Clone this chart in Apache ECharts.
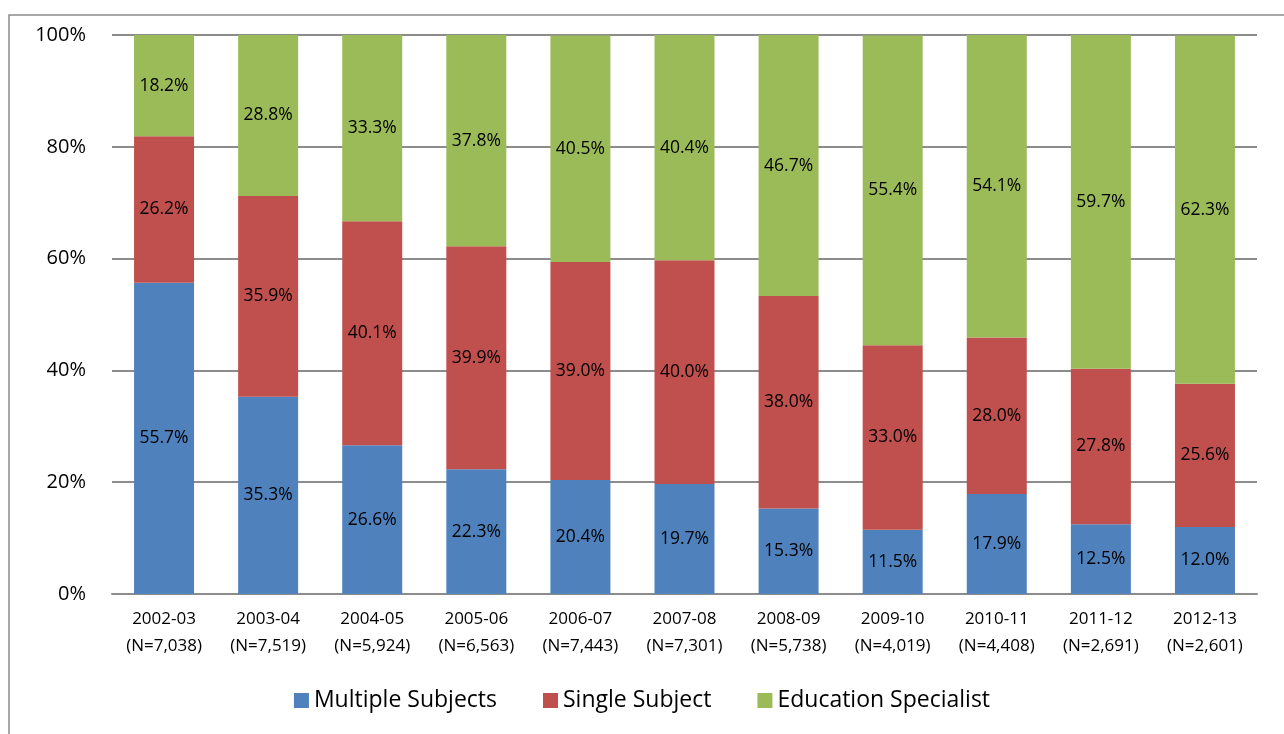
<!DOCTYPE html>
<html>
<head>
<meta charset="utf-8">
<script src="https://cdn.jsdelivr.net/npm/echarts@6/dist/echarts.min.js"></script>
<style>
  html, body { margin: 0; padding: 0; background: #fff; }
  #chart { width: 1284px; height: 734px; }
</style>
</head>
<body>
<div id="chart"></div>
<script>
// 年份与样本数
const years = ['2002-03', '2003-04', '2004-05', '2005-06', '2006-07', '2007-08', '2008-09', '2009-10', '2010-11', '2011-12', '2012-13'];
const counts = ['7,038', '7,519', '5,924', '6,563', '7,443', '7,301', '5,738', '4,019', '4,408', '2,691', '2,601'];

// 三类证书的占比
const multipleSubjects = [55.7, 35.3, 26.6, 22.3, 20.4, 19.7, 15.3, 11.5, 17.9, 12.5, 12.0];
const singleSubject = [26.2, 35.9, 40.1, 39.9, 39.0, 40.0, 38.0, 33.0, 28.0, 27.8, 25.6];
const educationSpecialist = [18.2, 28.8, 33.3, 37.8, 40.5, 40.4, 46.7, 55.4, 54.1, 59.7, 62.3];

const yTicks = [0, 20, 40, 60, 80, 100];

const categories = years.map((y, i) => y + '\n(N=' + counts[i] + ')');
const font = 'Open Sans';

function makeSeries(name, data, color) {
    return {
        name: name,
        type: 'bar',
        stack: 'total',
        barWidth: 60,
        data: data,
        itemStyle: { color: color },
        label: {
            show: true,
            position: 'inside',
            formatter: p => p.value.toFixed(1) + '%',
            color: '#000',
            fontFamily: font,
            fontSize: 17.5
        }
    };
}

const chart = echarts.init(document.getElementById('chart'));
chart.setOption({
    animation: false,
    textStyle: { fontFamily: font },
    graphic: [{
        type: 'rect',
        shape: { x: 9, y: 15, width: 1300, height: 740 },
        style: { fill: 'none', stroke: '#8c8c8c', lineWidth: 1.5 },
        silent: true
    }],
    grid: { left: 112, right: 27, top: 35, bottom: 140 },
    legend: {
        bottom: 17,
        left: 'center',
        itemWidth: 15,
        itemHeight: 15,
        itemGap: 46,
        icon: 'rect',
        textStyle: { fontSize: 23, color: '#000', fontFamily: font }
    },
    xAxis: {
        type: 'category',
        data: categories,
        axisTick: { show: false },
        axisLine: { lineStyle: { color: '#8c8c8c', width: 2 } },
        axisLabel: {
            color: '#000',
            fontSize: 17,
            lineHeight: 27,
            margin: 12,
            fontFamily: font
        }
    },
    yAxis: {
        type: 'value',
        min: yTicks[0],
        max: yTicks[yTicks.length - 1],
        interval: 20,
        axisLine: { show: false },
        axisTick: { show: false },
        splitLine: { lineStyle: { color: '#8c8c8c', width: 2 } },
        axisLabel: {
            formatter: '{value}%',
            color: '#000',
            fontSize: 20,
            margin: 26,
            fontFamily: font
        }
    },
    series: [
        makeSeries('Multiple Subjects', multipleSubjects, '#4F81BD'),
        makeSeries('Single Subject', singleSubject, '#C0504D'),
        makeSeries('Education Specialist', educationSpecialist, '#9BBB59')
    ]
});
</script>
</body>
</html>
